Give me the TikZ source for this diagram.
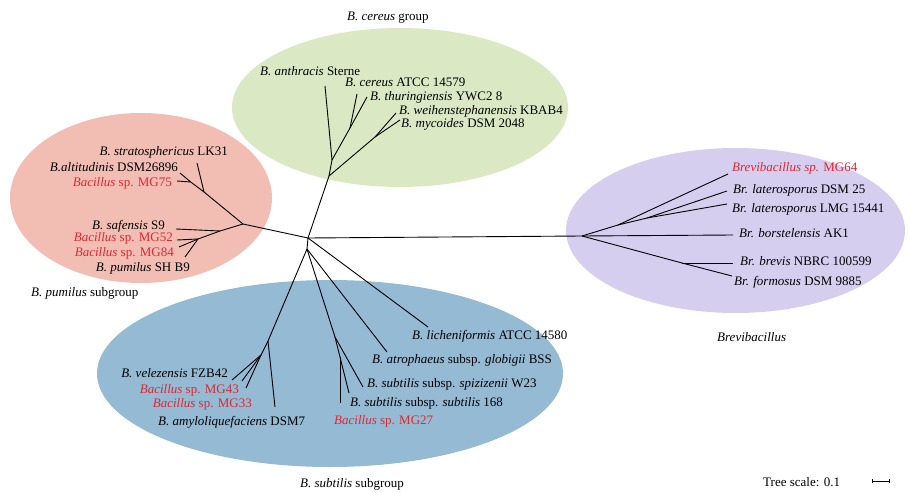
\documentclass[tikz,border=0pt]{standalone}
\usepackage{fontspec}
\setmainfont{Liberation Serif}
\usetikzlibrary{arrows.meta}
\definecolor{gcol}{RGB}{218,232,196}
\definecolor{rcol}{RGB}{242,190,180}
\definecolor{pcol}{RGB}{214,206,238}
\definecolor{bcol}{RGB}{148,186,212}
\definecolor{redtxt}{RGB}{226,38,50}
\begin{document}
\begin{tikzpicture}[x=1pt,y=-1pt,
  font=\fontsize{13}{15}\selectfont,
  br/.style={line width=0.9pt, line join=round},
  lab/.style={anchor=base west, inner sep=0pt},
  labr/.style={anchor=base east, inner sep=0pt},
  mg/.style={text=redtxt}]
\useasboundingbox (0,0) rectangle (909,492);
% group ellipses
\fill[gcol] (400,107.5) ellipse [x radius=168, y radius=79.5];
\fill[rcol] (141,198) ellipse [x radius=131, y radius=85];
\fill[pcol] (735.5,230.5) ellipse [x radius=169.5, y radius=82.5];
\fill[bcol] (330,373.5) ellipse [x radius=233, y radius=93.5];

% internal nodes
\coordinate (R) at (308,238);
\coordinate (C0) at (329,176);
\coordinate (C1) at (332,160);
\coordinate (C2) at (350,128);
\coordinate (C3) at (375,137);
\coordinate (P0) at (243,224);
\coordinate (P1) at (204,192);
\coordinate (P2) at (190.7,182);
\coordinate (P3) at (220,231);
\coordinate (P4) at (198,239);
\coordinate (B0) at (582,236);
\coordinate (B1) at (618,225);
\coordinate (B2) at (647,218);
\coordinate (B3) at (682,263);
\coordinate (S) at (307,249);
\coordinate (A) at (268,341);
\coordinate (Bv) at (261,355);
\coordinate (N) at (335,337);
\coordinate (N2) at (340,357);
% tips
\coordinate (tAnth) at (325,86);
\coordinate (tCer) at (357,94);
\coordinate (tThu) at (367,97);
\coordinate (tWei) at (396,113);
\coordinate (tMyc) at (400,120);
\coordinate (tStr) at (197,163);
\coordinate (tAlt) at (180,173);
\coordinate (tM75) at (177,181);
\coordinate (tSaf) at (176,229);
\coordinate (tM52) at (177,240);
\coordinate (tM84) at (179,247);
\coordinate (tPum) at (185,257);
\coordinate (tM64) at (728,174);
\coordinate (tD25) at (727,191);
\coordinate (tLMG) at (727,204);
\coordinate (tBor) at (733,235);
\coordinate (tBrv) at (733,263);
\coordinate (tFor) at (732,276);
\coordinate (tVel) at (232,380);
\coordinate (tM43) at (242,381);
\coordinate (tM33) at (246,388);
\coordinate (tAmy) at (275,407);
\coordinate (tLic) at (428,327);
\coordinate (tAtr) at (387,352);
\coordinate (tSpi) at (363,387);
\coordinate (t168) at (349,393);
\coordinate (tM27) at (340,403);

% branches
\draw[br] (R) -- (C0);
\draw[br] (C0) -- (C1);
\draw[br] (C1) -- (tAnth);
\draw[br] (C1) -- (C2);
\draw[br] (C2) -- (tCer);
\draw[br] (C2) -- (tThu);
\draw[br] (C0) -- (C3);
\draw[br] (C3) -- (tWei);
\draw[br] (C3) -- (tMyc);

\draw[br] (R) -- (P0);
\draw[br] (P0) -- (P1);
\draw[br] (P1) -- (tStr);
\draw[br] (P1) -- (P2);
\draw[br] (P2) -- (tAlt);
\draw[br] (P2) -- (tM75);
\draw[br] (P0) -- (P3);
\draw[br] (P3) -- (tSaf);
\draw[br] (P3) -- (P4);
\draw[br] (P4) -- (tM52);
\draw[br] (P4) -- (tM84);
\draw[br] (P4) -- (tPum);

\draw[br] (R) -- (B0);
\draw[br] (B0) -- (B1);
\draw[br] (B1) -- (tM64);
\draw[br] (B1) -- (B2);
\draw[br] (B2) -- (tD25);
\draw[br] (B2) -- (tLMG);
\draw[br] (B0) -- (tBor);
\draw[br] (B0) -- (B3);
\draw[br] (B3) -- (tBrv);
\draw[br] (B3) -- (tFor);

\draw[br] (R) -- (S);
\draw[br] (R) -- (tLic);
\draw[br] (S) -- (tAtr);
\draw[br] (S) -- (A);
\draw[br] (A) -- (tAmy);
\draw[br] (A) -- (Bv);
\draw[br] (Bv) -- (tVel);
\draw[br] (Bv) -- (tM43);
\draw[br] (Bv) -- (tM33);
\draw[br] (S) -- (N);
\draw[br] (N) -- (tSpi);
\draw[br] (N) -- (N2);
\draw[br] (N2) -- (t168);
\draw[br] (N2) -- (tM27);

% labels: cereus group
\node[lab] (lAnth) at (260,76) {\textit{B. anthracis} Sterne};
\node[lab] (lCer) at (345,87) {\textit{B. cereus} ATCC 14579};
\node[lab] (lThu) at (370,100) {\textit{B. thuringiensis} YWC2 8};
\node[lab] (lWei) at (399,114) {\textit{B. weihenstephanensis} KBAB4};
\node[lab] (lMyc) at (401,128) {\textit{B. mycoides} DSM 2048};
\node[lab] (gCer) at (347,21) {\textit{B. cereus} group};

% labels: pumilus
\node[labr] (lStr) at (228,155) {\textit{B. stratosphericus} LK31};
\node[labr] (lAlt) at (178,171) {\textit{B.altitudinis} DSM26896};
\node[labr,mg] (lM75) at (172,186) {\textit{Bacillus} sp. MG75};
\node[labr] (lSaf) at (165,229) {\textit{B. safensis} S9};
\node[labr,mg] (lM52) at (173,241) {\textit{Bacillus} sp. MG52};
\node[labr,mg] (lM84) at (174,256) {\textit{Bacillus} sp. MG84};
\node[labr] (lPum) at (190,271) {\textit{B. pumilus} SH B9};
\node[lab] (gPum) at (31,296) {\textit{B. pumilus} subgroup};

% labels: Brevibacillus
\node[lab,mg] (lM64) at (732,171) {\textit{Brevibacillus sp.} MG64};
\node[lab] (lD25) at (733,193) {\textit{Br. laterosporus} DSM 25};
\node[lab] (lLMG) at (732,212) {\textit{Br. laterosporus} LMG 15441};
\node[lab] (lBor) at (739,237) {\textit{Br. borstelensis} AK1};
\node[lab] (lBrv) at (740,265) {\textit{Br. brevis} NBRC 100599};
\node[lab] (lFor) at (734,285) {\textit{Br. formosus} DSM 9885};
\node[lab] (gBre) at (717,341) {\textit{Brevibacillus}};

% labels: subtilis
\node[labr] (lVel) at (228,377) {\textit{B. velezensis} FZB42};
\node[labr,mg] (lM43) at (239,393) {\textit{Bacillus} sp. MG43};
\node[labr,mg] (lM33) at (252,407) {\textit{Bacillus} sp. MG33};
\node[lab] (lAmy) at (158,425) {\textit{B. amyloliquefaciens} DSM7};
\node[lab] (lLic) at (412,339) {\textit{B. licheniformis} ATCC 14580};
\node[lab] (lAtr) at (372,363) {\textit{B. atrophaeus} subsp. \textit{globigii} BSS};
\node[lab] (lSpi) at (367,387) {\textit{B. subtilis} subsp. \textit{spizizenii} W23};
\node[lab] (l168) at (350,406) {\textit{B. subtilis} subsp. \textit{subtilis} 168};
\node[lab,mg] (lM27) at (334,424) {\textit{Bacillus} sp. MG27};
\node[lab] (gSub) at (300,487) {\textit{B. subtilis} subgroup};

% scale
\node[lab] (ts) at (763,486) {Tree scale: 0.1};
\coordinate (sb1) at (872,481);
\coordinate (sb2) at (890,481);
\draw[line width=0.8pt, {Bar[width=4pt]}-{Bar[width=4pt]}] (sb1) -- (sb2);
\end{tikzpicture}
\end{document}
